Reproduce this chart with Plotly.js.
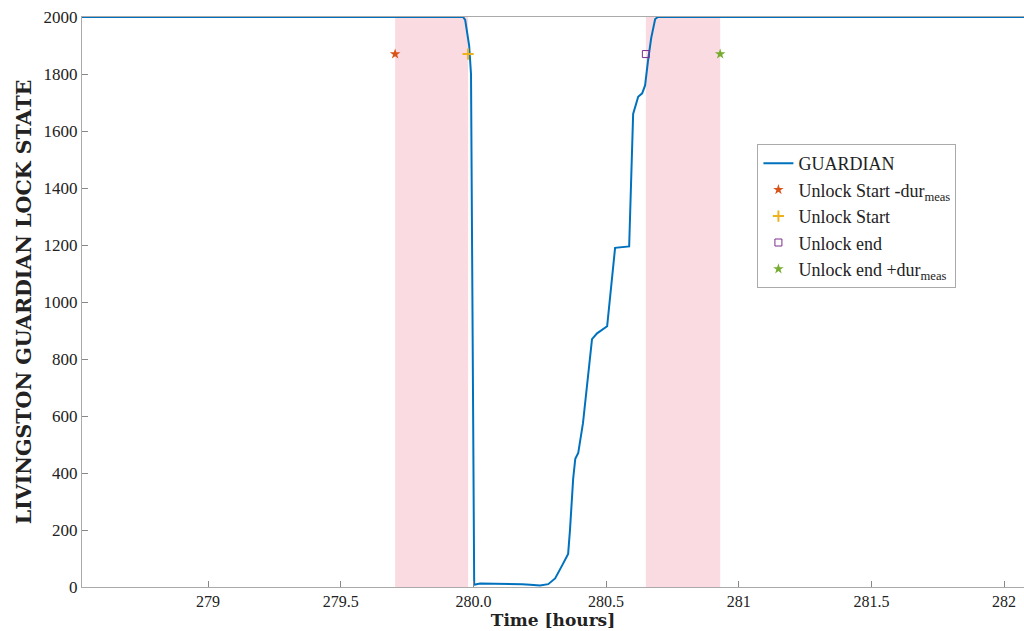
<!DOCTYPE html>
<html>
<head>
<meta charset="utf-8">
<script src="https://cdn.plot.ly/plotly-3.0.1.min.js"></script>
<style>html,body{margin:0;padding:0;background:#fff;}#chart{width:1024px;height:631px;}</style>
</head>
<body>
<div id="chart"></div>
<script>
// GUARDIAN lock state over time (hours)
const timeHours = [278.5, 279.0, 279.5, 279.961, 279.969, 279.984, 279.991, 279.999, 280.003, 280.025, 280.10, 280.184, 280.214, 280.251, 280.282, 280.308, 280.334, 280.357, 280.364, 280.376, 280.384, 280.395, 280.413, 280.429, 280.447, 280.466, 280.504, 280.534, 280.587, 280.602, 280.621, 280.636, 280.647, 280.658, 280.670, 280.685, 280.696, 281.0, 281.5, 282.0, 282.1];
const lockState = [2000, 2000, 2000, 2000, 1990, 1900, 1800, 300, 8, 12, 12, 10, 8, 5, 10, 30, 75, 116, 200, 380, 450, 470, 575, 710, 870, 890, 915, 1190, 1195, 1660, 1720, 1732, 1760, 1846, 1926, 1993, 2000, 2000, 2000, 2000, 2000];

// Unlock event markers
const unlockStartMinusDur = [279.705];
const unlockStart = [279.980];
const unlockEnd = [280.650];
const unlockEndPlusDur = [280.930];
const markerLevel = [1870];

// Shaded windows (start - dur .. start) and (end .. end + dur)
const bandStarts = [279.705, 280.650];
const bandEnds = [279.980, 280.930];

const xTickVals = [279, 279.5, 280.0, 280.5, 281, 281.5, 282];
const xTickText = ['279', '279.5', '280.0', '280.5', '281', '281.5', '282'];
const yTickVals = [0, 200, 400, 600, 800, 1000, 1200, 1400, 1600, 1800, 2000];

const serif = '"Liberation Serif", "DejaVu Serif", serif';
const wideSerif = '"DejaVu Serif", "Liberation Serif", serif';

const traces = [
  {x: timeHours, y: lockState, type: 'scatter', mode: 'lines', name: 'GUARDIAN',
   line: {color: '#0072BD', width: 2}},
  {x: unlockStartMinusDur, y: markerLevel, type: 'scatter', mode: 'markers', name: 'Unlock Start -dur<sub>meas</sub>',
   marker: {symbol: 'star', size: 8, color: '#D95319'}},
  {x: unlockStart, y: markerLevel, type: 'scatter', mode: 'markers', name: 'Unlock Start',
   marker: {symbol: 'cross-thin-open', size: 8, color: '#EDB120', line: {width: 2, color: '#EDB120'}}},
  {x: unlockEnd, y: markerLevel, type: 'scatter', mode: 'markers', name: 'Unlock end',
   marker: {symbol: 'square-open', size: 7, color: '#7E2F8E'}},
  {x: unlockEndPlusDur, y: markerLevel, type: 'scatter', mode: 'markers', name: 'Unlock end +dur<sub>meas</sub>',
   marker: {symbol: 'star', size: 8, color: '#77AC30'}}
];

const shapes = bandStarts.map((s, i) => ({
  type: 'rect', xref: 'x', yref: 'paper', x0: s, x1: bandEnds[i], y0: 0, y1: 1,
  fillcolor: '#fadbe2', line: {width: 0}, layer: 'below'
}));

const layout = {
  width: 1024, height: 631,
  margin: {l: 82, r: 0, t: 17, b: 44},
  paper_bgcolor: '#fff', plot_bgcolor: '#fff',
  showlegend: true,
  legend: {x: 0.717, y: 0.777, xanchor: 'left', yanchor: 'top',
    bgcolor: '#fff', bordercolor: '#aaaaaa', borderwidth: 1,
    font: {family: serif, size: 18, color: '#222'}, tracegroupgap: 0, itemwidth: 30},
  font: {family: serif, color: '#222'},
  xaxis: {range: [278.525, 282.075], tickvals: xTickVals, ticktext: xTickText,
    ticks: 'inside', ticklen: 6, tickcolor: '#888', showgrid: false, zeroline: false,
    showline: true, linecolor: '#aaaaaa', mirror: true,
    tickfont: {family: serif, size: 16, color: '#222'},
    title: {text: '<b>Time [hours]</b>', font: {family: wideSerif, size: 17, color: '#222'}, standoff: 2}},
  yaxis: {range: [0, 2000], tickvals: yTickVals,
    ticks: 'inside', ticklen: 6, tickcolor: '#888', showgrid: false, zeroline: false,
    showline: true, linecolor: '#aaaaaa', mirror: true,
    tickfont: {family: serif, size: 17, color: '#222'},
    title: {text: '<b>LIVINGSTON GUARDIAN LOCK STATE</b>', font: {family: wideSerif, size: 20.5, color: '#222'}, standoff: 6}},
  shapes: shapes
};

Plotly.newPlot('chart', traces, layout, {displayModeBar: false, staticPlot: true});
</script>
</body>
</html>
